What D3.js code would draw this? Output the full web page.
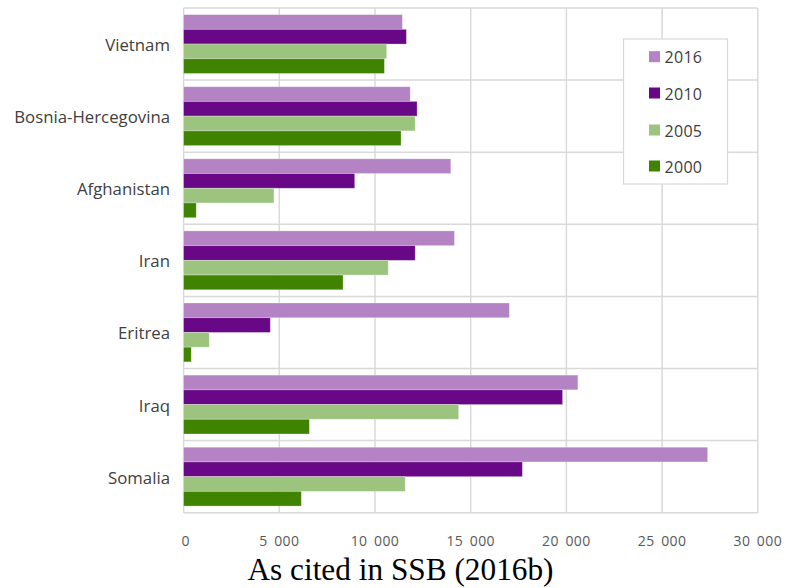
<!DOCTYPE html>
<html><head><meta charset="utf-8">
<script src="https://cdn.jsdelivr.net/npm/d3@7"></script>
<style>body{margin:0;background:#fff}svg{display:block}</style>
</head><body>
<script>
const categories = ["Vietnam","Bosnia-Hercegovina","Afghanistan","Iran","Eritrea","Iraq","Somalia"];
const years = ["2016","2010","2005","2000"];
const values2016 = [11430, 11840, 13960, 14150, 17020, 20600, 27380];
const values2010 = [11640, 12200, 8940, 12100, 4530, 19800, 17700];
const values2005 = [10610, 12100, 4720, 10690, 1340, 14370, 11580];
const values2000 = [10490, 11360, 660, 8330, 400, 6570, 6150];
const xTicks = [0, 5000, 10000, 15000, 20000, 25000, 30000];
const colors = ["#b383c3", "#690886", "#9dc47f", "#3f8300"];
const caption = "As cited in SSB (2016b)";

const series = [values2016, values2010, values2005, values2000];
const W = 787, H = 588;
const svg = d3.select("body").append("svg").attr("width", W).attr("height", H);
const x = d3.scaleLinear().domain([0, 30000]).range([183.6, 757.8]);
const y0 = d3.scaleBand().domain(categories).range([8, 512.7]).padding(0);
const y1 = d3.scaleBand().domain(years).range([0, y0.bandwidth()]).paddingInner(0).paddingOuter(0.45);
const grid = "#d9d9d9";

// vertical gridlines
svg.append("g").selectAll("line").data(xTicks).join("line")
  .attr("x1", d => x(d)).attr("x2", d => x(d))
  .attr("y1", 8).attr("y2", 512.7)
  .attr("stroke", grid).attr("stroke-width", 1.5);
// horizontal gridlines at band boundaries
const bounds = categories.map(c => y0(c)).concat([y0(categories[categories.length-1]) + y0.bandwidth()]);
svg.append("g").selectAll("line").data(bounds).join("line")
  .attr("x1", x(0)).attr("x2", x(30000))
  .attr("y1", d => d).attr("y2", d => d)
  .attr("stroke", grid).attr("stroke-width", 1.5);

// bars
const rows = [];
categories.forEach((c, i) => years.forEach((yr, j) => rows.push({c, yr, j, v: series[j][i]})));
svg.append("g").selectAll("rect").data(rows).join("rect")
  .attr("x", x(0))
  .attr("y", d => y0(d.c) + y1(d.yr))
  .attr("width", d => x(d.v) - x(0))
  .attr("height", y1.bandwidth())
  .attr("fill", d => colors[d.j])
  .attr("stroke", "rgba(255,255,255,0.35)").attr("stroke-width", 0.8);

// category labels
svg.append("g").selectAll("text").data(categories).join("text")
  .attr("x", 170).attr("y", d => y0(d) + y0.bandwidth()/2 + 0.5)
  .attr("text-anchor", "end").attr("dominant-baseline", "central")
  .attr("font-family", "Open Sans, sans-serif").attr("font-size", 16.8)
  .attr("fill", "#404040").text(d => d);

// x tick labels
svg.append("g").selectAll("text").data(xTicks).join("text")
  .attr("x", d => x(d) + (d === 0 ? 2 : 0)).attr("y", 540)
  .attr("text-anchor", "middle").attr("dominant-baseline", "central")
  .attr("font-family", "Open Sans, sans-serif").attr("font-size", 14)
  .attr("letter-spacing", 0.4).attr("word-spacing", 2.5)
  .attr("fill", "#595959").text(d => d3.format(",")(d).replace(/,/g, " "));

// legend
const lg = svg.append("g");
lg.append("rect").attr("x", 623.5).attr("y", 39).attr("width", 104).attr("height", 145)
  .attr("fill", "#fff").attr("stroke", grid).attr("stroke-width", 1.2);
const legY = [56.7, 93, 130, 166];
years.forEach((yr, j) => {
  lg.append("rect").attr("x", 649).attr("y", legY[j] - 5.5).attr("width", 11).attr("height", 11).attr("fill", colors[j]);
  lg.append("text").attr("x", 664.5).attr("y", legY[j] + 0.5).attr("dominant-baseline", "central")
    .attr("font-family", "Open Sans, sans-serif").attr("font-size", 16).attr("letter-spacing", 0.3)
    .attr("fill", "#404040").text(yr);
});

// caption
svg.append("text").attr("x", 400.5).attr("y", 579.5).attr("text-anchor", "middle")
  .attr("font-family", "Liberation Serif, Times New Roman, serif").attr("font-size", 31.3)
  .attr("fill", "#000").text(caption);
</script>
</body></html>
